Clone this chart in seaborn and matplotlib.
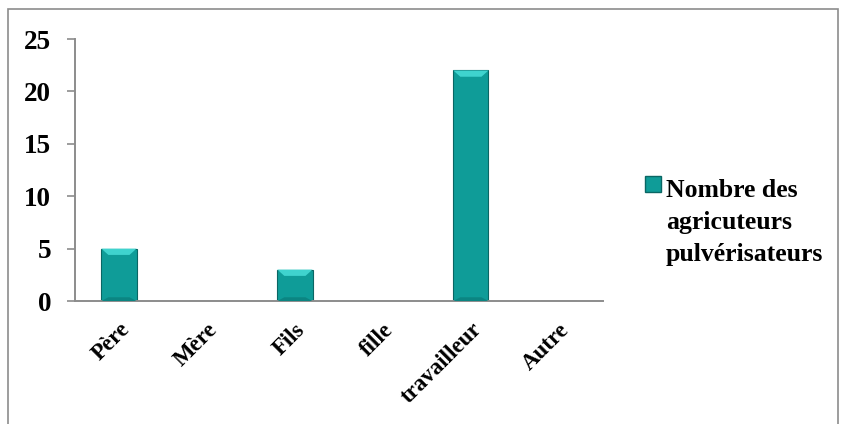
import matplotlib
matplotlib.use("Agg")
import matplotlib.pyplot as plt
from matplotlib.patches import Rectangle, Polygon
from matplotlib.legend_handler import HandlerPatch
import seaborn as sns
import pandas as pd
import numpy as np

categories = ["Père", "Mère", "Fils", "fille", "travailleur", "Autre"]
values = [5, 0, 3, 0, 22, 0]
series_name = "Nombre des\nagricuteurs\npulvérisateurs"
y_ticks = [0, 5, 10, 15, 20, 25]

sns.set_theme(style="white")
plt.rcParams["font.family"] = ["Liberation Serif", "DejaVu Serif"]
plt.rcParams["font.weight"] = "bold"
plt.rcParams["text.color"] = "black"
plt.rcParams["xtick.color"] = "black"
plt.rcParams["ytick.color"] = "black"

df = pd.DataFrame({"categorie": categories, "valeur": values})

fig = plt.figure(figsize=(8.42, 4.24), dpi=100)
ax = fig.add_axes([0.089, 0.29, 0.627, 0.618])

teal = "#0F9C98"
sns.barplot(data=df, x="categorie", y="valeur", color=teal, width=0.4,
            saturation=1, edgecolor="#0A6664", linewidth=0.8, ax=ax)

# bevel shading on each bar: light top band, darker base band
for p in ax.patches:
    h = p.get_height()
    if h <= 0:
        continue
    x0, w = p.get_x(), p.get_width()
    bev_y = min(0.6, h * 0.2)
    ax.add_patch(Polygon([[x0, h], [x0 + w, h], [x0 + w * 0.8, h - bev_y], [x0 + w * 0.2, h - bev_y]],
                         closed=True, facecolor="#3FD3CE", edgecolor="none", zorder=3))
    ax.add_patch(Polygon([[x0, 0], [x0 + w, 0], [x0 + w * 0.8, bev_y * 0.6], [x0 + w * 0.2, bev_y * 0.6]],
                         closed=True, facecolor="#0B8582", edgecolor="none", zorder=3))

ax.set_ylim(0, 25)
ax.set_xlim(-0.5, len(categories) - 0.5)
ax.set_yticks(y_ticks)
ax.set_yticklabels([str(v) for v in y_ticks], fontsize=19.5, fontweight="bold")
ax.set_xticks(range(len(categories)))
ax.set_xticklabels(categories, rotation=45, ha="right", rotation_mode="anchor",
                   fontsize=16.5, fontweight="bold")
ax.set_xticks(np.arange(-0.5, len(categories), 1.0), minor=True)
ax.tick_params(axis="x", which="major", length=0, pad=13)
ax.tick_params(axis="x", which="minor", length=6, width=1.2, color="#8C8C8C", direction="out")
ax.tick_params(axis="y", length=6, width=1.2, color="#8C8C8C", direction="out", left=True, pad=11)
ax.set_xlabel("")
ax.set_ylabel("")
for s in ["top", "right"]:
    ax.spines[s].set_visible(False)
for s in ["left", "bottom"]:
    ax.spines[s].set_color("#8C8C8C")
    ax.spines[s].set_linewidth(1.4)

legend_fs = 18.5


def top_aligned_box(legend, orig_handle, xdescent, ydescent, width, height, fontsize):
    # place the swatch beside the first line of the label
    return Rectangle((-xdescent, -ydescent + 1.5 * fontsize), width, height)


handle = Rectangle((0, 0), 1, 1, facecolor=teal, edgecolor="#0A6664")
leg = fig.legend([handle], [series_name], loc="upper left", bbox_to_anchor=(0.739, 0.632),
                 frameon=False, prop={"family": "Liberation Serif", "weight": "bold", "size": legend_fs},
                 handlelength=0.6, handleheight=0.6, handletextpad=0.2,
                 handler_map={Rectangle: HandlerPatch(patch_func=top_aligned_box)})
for t in leg.get_texts():
    t.set_linespacing(1.5)

# chart border
fig.add_artist(Rectangle((8 / 842, -0.05), 830 / 842, 1.05 - 9 / 424,
                         transform=fig.transFigure, fill=False, edgecolor="#8C8C8C", linewidth=1.2))

fig.savefig("out.png", dpi=100)
